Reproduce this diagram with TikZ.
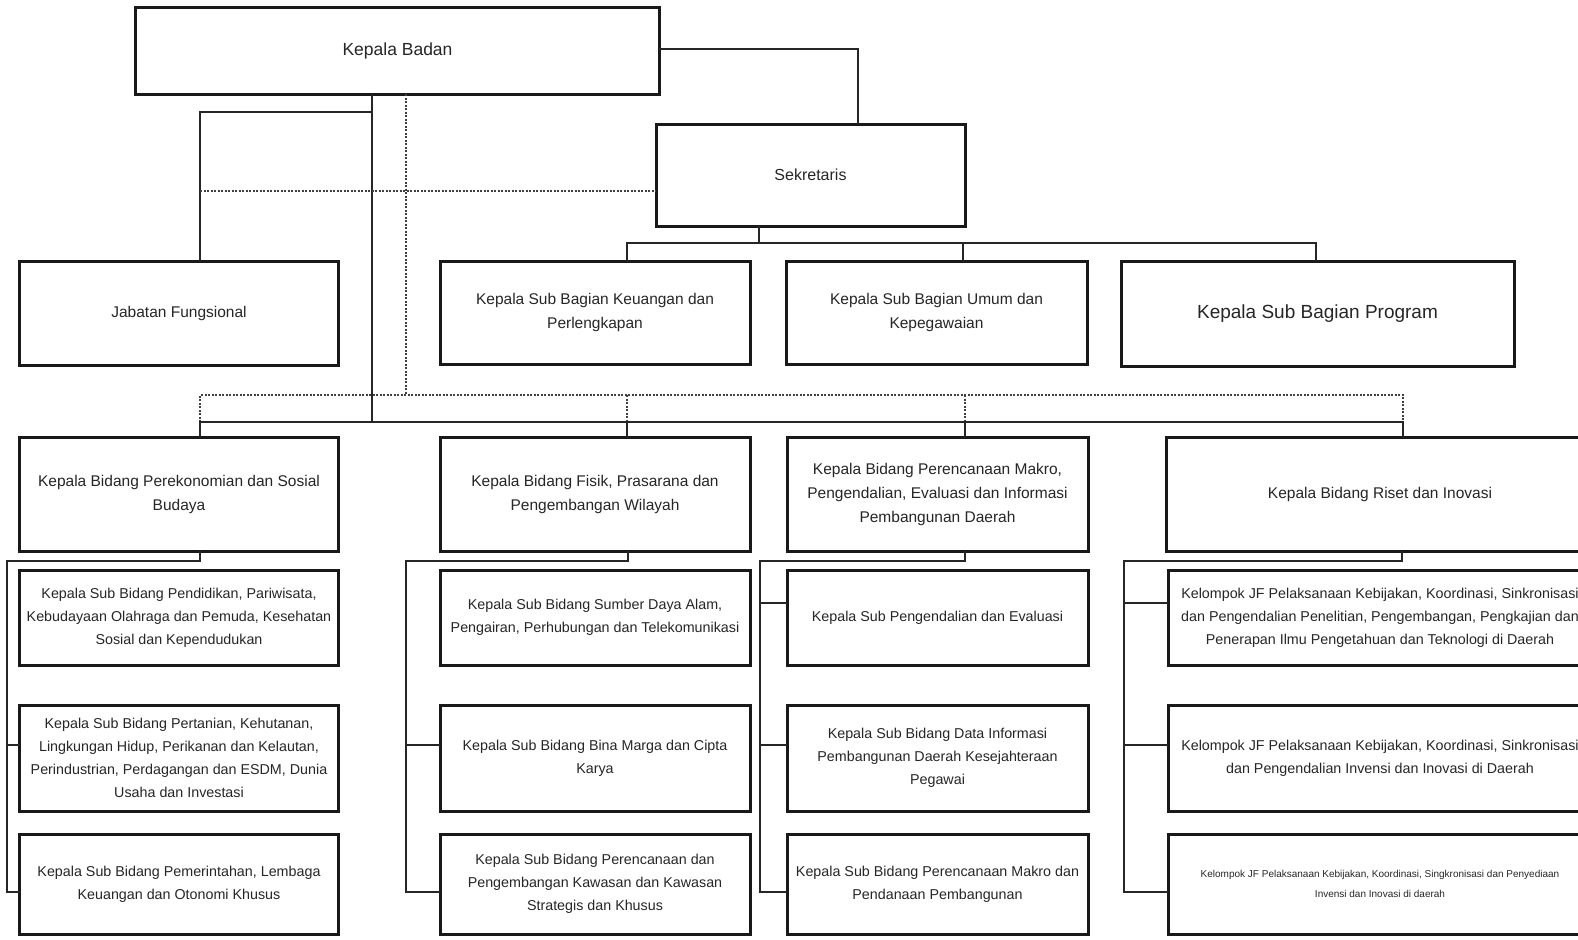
\documentclass[tikz,border=0pt]{standalone}
\usepackage{fontspec}
\setmainfont{Liberation Sans}
\begin{document}
\begin{tikzpicture}[x=1bp,y=-1bp,
  box/.style={draw=black!90,line width=3bp,inner sep=0pt,outer sep=0pt,align=center,text=black!85},
  big/.style={font=\fontsize{15.5bp}{24bp}\selectfont},
  sub/.style={font=\fontsize{14.3bp}{23bp}\selectfont},
  conn/.style={line width=1.3bp,draw=black!85},
  dsh/.style={line width=1.2bp,draw=black!75,dash pattern=on 2bp off 1.5bp}]
\useasboundingbox (0,0) rectangle (1578,939);
\clip (0,0) rectangle (1578,939);
\fill[white] (0,0) rectangle (1578,939);

% top level
\node[box,minimum width=523bp,minimum height=87bp,font=\fontsize{17.5bp}{24bp}\selectfont] (kb) at (397.5,50.5) {Kepala Badan};
\node[box,minimum width=309bp,minimum height=102bp,font=\fontsize{16bp}{24bp}\selectfont] (sek) at (810.5,175) {Sekretaris};
\node[box,big,minimum width=318bp,minimum height=104bp] (jab) at (179,313) {Jabatan Fungsional};
\node[box,big,minimum width=310bp,minimum height=103bp] (keu) at (595,312.5) {Kepala Sub Bagian Keuangan dan\\Perlengkapan};
\node[box,big,minimum width=301bp,minimum height=103bp] (umu) at (936.5,312.5) {Kepala Sub Bagian Umum dan\\Kepegawaian};
\node[box,minimum width=393bp,minimum height=105bp,font=\fontsize{19bp}{24bp}\selectfont] (prg) at (1317.5,313.5) {Kepala Sub Bagian Program};

% bidang
\node[box,big,minimum width=318bp,minimum height=114bp] (b1) at (179,494) {Kepala Bidang Perekonomian dan Sosial\\Budaya};
\node[box,big,minimum width=310bp,minimum height=114bp] (b2) at (595,494) {Kepala Bidang Fisik, Prasarana dan\\Pengembangan Wilayah};
\node[box,big,minimum width=301bp,minimum height=114bp] (b3) at (937.5,494) {Kepala Bidang Perencanaan Makro,\\Pengendalian, Evaluasi dan Informasi\\Pembangunan Daerah};
\node[box,big,minimum width=428bp,minimum height=114bp] (b4) at (1380,494) {Kepala Bidang Riset dan Inovasi};

% sub column 1
\node[box,sub,minimum width=318bp,minimum height=95bp] (s1a) at (179,617.5) {Kepala Sub Bidang Pendidikan, Pariwisata,\\Kebudayaan Olahraga dan Pemuda, Kesehatan\\Sosial dan Kependudukan};
\node[box,sub,minimum width=318bp,minimum height=106bp] (s1b) at (179,758) {Kepala Sub Bidang Pertanian, Kehutanan,\\Lingkungan Hidup, Perikanan dan Kelautan,\\Perindustrian, Perdagangan dan ESDM, Dunia\\Usaha dan Investasi};
\node[box,sub,minimum width=318bp,minimum height=100bp] (s1c) at (179,884) {Kepala Sub Bidang Pemerintahan, Lembaga\\Keuangan dan Otonomi Khusus};
% sub column 2
\node[box,sub,minimum width=310bp,minimum height=95bp] (s2a) at (595,617.5) {Kepala Sub Bidang Sumber Daya Alam,\\Pengairan, Perhubungan dan Telekomunikasi};
\node[box,sub,minimum width=310bp,minimum height=106bp] (s2b) at (595,758) {Kepala Sub Bidang Bina Marga dan Cipta\\Karya};
\node[box,sub,minimum width=310bp,minimum height=100bp] (s2c) at (595,884) {Kepala Sub Bidang Perencanaan dan\\Pengembangan Kawasan dan Kawasan\\Strategis dan Khusus};
% sub column 3
\node[box,sub,minimum width=301bp,minimum height=95bp] (s3a) at (937.5,617.5) {Kepala Sub Pengendalian dan Evaluasi};
\node[box,sub,minimum width=301bp,minimum height=106bp] (s3b) at (937.5,758) {Kepala Sub Bidang Data Informasi\\Pembangunan Daerah Kesejahteraan\\Pegawai};
\node[box,sub,minimum width=301bp,minimum height=100bp] (s3c) at (937.5,884) {Kepala Sub Bidang Perencanaan Makro dan\\Pendanaan Pembangunan};
% sub column 4
\node[box,sub,minimum width=424bp,minimum height=95bp] (s4a) at (1380,617.5) {Kelompok JF Pelaksanaan Kebijakan, Koordinasi, Sinkronisasi\\dan Pengendalian Penelitian, Pengembangan, Pengkajian dan\\Penerapan Ilmu Pengetahuan dan Teknologi di Daerah};
\node[box,sub,minimum width=424bp,minimum height=106bp] (s4b) at (1380,758) {Kelompok JF Pelaksanaan Kebijakan, Koordinasi, Sinkronisasi\\dan Pengendalian Invensi dan Inovasi di Daerah};
\node[box,minimum width=424bp,minimum height=100bp,font=\fontsize{10bp}{20bp}\selectfont] (s4c) at (1380,884) {Kelompok JF Pelaksanaan Kebijakan, Koordinasi, Singkronisasi dan Penyediaan\\Invensi dan Inovasi di daerah};

% coordinates
\coordinate (ks) at (858,49);
\coordinate (sv) at (372,422);
\coordinate (dv) at (406,395);
\coordinate (jb) at (200,112);
\coordinate (jd) at (200,191);
\coordinate (sb) at (759,243);
\coordinate (sbL) at (627,243);
\coordinate (sbM) at (963,243);
\coordinate (sbR) at (1316,243);
\coordinate (bdL) at (200,395);
\coordinate (bd2) at (627,395);
\coordinate (bd3) at (965,395);
\coordinate (bdR) at (1403,395);
\coordinate (bsL) at (200,422);
\coordinate (bsR) at (1403,422);

% top connectors
\draw[conn] (kb.east |- ks) -- (ks) -- (ks |- sek.north);
\draw[conn] (kb.south -| sv) -- (sv);
\draw[dsh] (kb.south -| dv) -- (dv);
\draw[conn] (jb -| sv) -- (jb) -- (jb |- jab.north);
\draw[dsh] (jd) -- (jd -| sek.west);
\draw[conn] (sek.south -| sb) -- (sb);
\draw[conn] (sbL |- keu.north) -- (sbL) -- (sbR) -- (sbR |- prg.north);
\draw[conn] (sbM) -- (sbM |- umu.north);

% bidang buses
\draw[dsh] (bsL) -- (bdL) -- (bdR) -- (bsR);
\draw[dsh] (bd2) -- (bd2 |- bsL);
\draw[dsh] (bd3) -- (bd3 |- bsL);
\draw[conn] (bsL |- b1.north) -- (bsL) -- (bsR) -- (bsR |- b4.north);
\draw[conn] (bd2 |- bsL) -- (bd2 |- b2.north);
\draw[conn] (bd3 |- bsL) -- (bd3 |- b3.north);

% sub buses
\coordinate (h1) at (200,561);  \coordinate (v1) at (7,561);
\coordinate (t1b) at (7,745);   \coordinate (t1c) at (7,892);
\coordinate (h2) at (628,561);  \coordinate (v2) at (406,561);
\coordinate (t2b) at (406,745); \coordinate (t2c) at (406,892);
\coordinate (h3) at (965,561);  \coordinate (v3) at (760,561);
\coordinate (t3a) at (760,603); \coordinate (t3b) at (760,745); \coordinate (t3c) at (760,892);
\coordinate (h4) at (1402,561); \coordinate (v4) at (1124,561);
\coordinate (t4a) at (1124,603); \coordinate (t4b) at (1124,745); \coordinate (t4c) at (1124,892);

\draw[conn] (b1.south -| h1) -- (h1) -- (v1) -- (t1c) -- (t1c -| s1c.west);
\draw[conn] (t1b) -- (t1b -| s1b.west);
\draw[conn] (b2.south -| h2) -- (h2) -- (v2) -- (t2c) -- (t2c -| s2c.west);
\draw[conn] (t2b) -- (t2b -| s2b.west);
\draw[conn] (b3.south -| h3) -- (h3) -- (v3) -- (t3c) -- (t3c -| s3c.west);
\draw[conn] (t3b) -- (t3b -| s3b.west);
\draw[conn] (t3a) -- (t3a -| s3a.west);
\draw[conn] (b4.south -| h4) -- (h4) -- (v4) -- (t4c) -- (t4c -| s4c.west);
\draw[conn] (t4b) -- (t4b -| s4b.west);
\draw[conn] (t4a) -- (t4a -| s4a.west);
\end{tikzpicture}
\end{document}
